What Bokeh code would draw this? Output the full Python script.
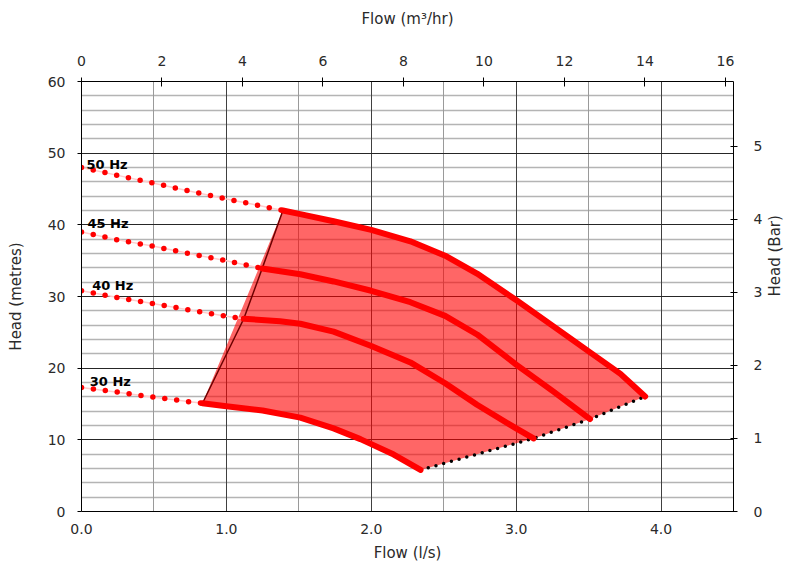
import math
from bokeh.plotting import figure
from bokeh.models import Range1d, LinearAxis, FixedTicker, Grid, PrintfTickFormatter
from bokeh.core.properties import value
from bokeh.embed import file_html
from bokeh.resources import INLINE

# ---------------- data (flow l/s, head m) ----------------
# solid operating curves
q50 = [1.39, 1.51, 1.74, 2.00, 2.27, 2.51, 2.73, 3.00, 3.26, 3.51, 3.72, 3.89]
h50 = [42.0, 41.5, 40.5, 39.3, 37.7, 35.7, 33.2, 29.5, 25.8, 22.2, 19.2, 16.05]
q45 = [1.247, 1.51, 1.74, 2.00, 2.27, 2.51, 2.73, 3.00, 3.26, 3.51]
h45 = [33.9, 33.1, 32.1, 30.8, 29.2, 27.3, 24.7, 20.5, 16.7, 12.9]
q40 = [1.12, 1.37, 1.51, 1.74, 2.00, 2.27, 2.51, 2.73, 3.00, 3.12]
h40 = [26.9, 26.55, 26.2, 25.1, 23.1, 20.8, 17.9, 14.9, 11.6, 10.2]
q30 = [0.835, 1.00, 1.25, 1.51, 1.74, 1.925, 2.00, 2.155, 2.34]
h30 = [15.1, 14.7, 14.1, 13.1, 11.6, 10.1, 9.4, 7.95, 5.8]

# dotted (non-recommended) parts
q50d = [0.0, 0.25, 0.50, 0.75, 1.00, 1.20, 1.39]
h50d = [48.0, 46.9, 45.8, 44.7, 43.6, 42.8, 42.0]
q45d = [0.0, 0.25, 0.50, 0.75, 1.00, 1.247]
h45d = [39.0, 37.9, 37.0, 35.95, 35.0, 33.9]
q40d = [0.0, 0.25, 0.50, 0.75, 1.00, 1.12]
h40d = [30.8, 29.85, 29.0, 28.1, 27.25, 26.9]
q30d = [0.0, 0.25, 0.50, 0.75, 0.835]
h30d = [17.3, 16.65, 15.95, 15.3, 15.1]

speed_labels = ["50 Hz", "45 Hz", "40 Hz", "30 Hz"]
label_q = [0.035, 0.041, 0.074, 0.057]
label_h = [48.4, 40.2, 31.5, 18.1]

left_ticks = [0, 10, 20, 30, 40, 50, 60]
bottom_ticks = [0, 1, 2, 3, 4]
top_ticks = [0, 2, 4, 6, 8, 10, 12, 14, 16]
right_ticks = [0, 1, 2, 3, 4, 5]

M3H_PER_LS = 3.6
M_PER_BAR = 10.2

# ---------------- figure ----------------
p = figure(frame_width=652, frame_height=430,
           x_range=Range1d(0, 4.5), y_range=Range1d(0, 60),
           output_backend="svg", toolbar_location=None,
           min_border_left=81, min_border_right=59,
           min_border_top=81, min_border_bottom=51)
p.outline_line_color = None
p.background_fill_color = "white"
p.border_fill_color = "white"
p.xgrid.visible = False
p.ygrid.visible = False

p.extra_x_ranges = {"m3h": Range1d(0, 4.5 * M3H_PER_LS)}
p.extra_y_ranges = {"bar": Range1d(0, 60 / M_PER_BAR)}

FONT = "DejaVu Sans"
TXT = "#2a2a2a"

def style_axis(ax, tin, tout, standoff, lab_standoff):
    ax.axis_line_color = "black"
    ax.axis_line_width = 1
    ax.major_tick_line_color = "black"
    ax.major_tick_in = tin
    ax.major_tick_out = tout
    ax.minor_tick_line_color = None
    ax.major_label_text_font = FONT
    ax.major_label_text_font_size = "14px"
    ax.major_label_text_color = TXT
    ax.major_label_standoff = standoff
    ax.axis_label_text_font = FONT
    ax.axis_label_text_font_size = "15px"
    ax.axis_label_text_font_style = "normal"
    ax.axis_label_text_color = TXT
    ax.axis_label_standoff = lab_standoff

yl = p.yaxis[0]
yl.ticker = FixedTicker(ticks=left_ticks)
yl.axis_label = "Head (metres)"
style_axis(yl, 0, 4, 12, 20)

xb = p.xaxis[0]
xb.ticker = FixedTicker(ticks=bottom_ticks)
xb.formatter = PrintfTickFormatter(format="%.1f")
xb.axis_label = "Flow (l/s)"
style_axis(xb, 0, 0, 12, 7)

xt = LinearAxis(x_range_name="m3h", ticker=FixedTicker(ticks=top_ticks),
                axis_label="Flow (m³/hr)")
style_axis(xt, 5, 4, 12, 25)
p.add_layout(xt, "above")

yr = LinearAxis(y_range_name="bar", ticker=FixedTicker(ticks=right_ticks),
                axis_label="Head (Bar)")
style_axis(yr, 3, 4, 16, 10)
if "axis_label_orientation" in yr.properties():
    yr.axis_label_orientation = math.pi / 2
p.add_layout(yr, "right")

# ---------------- grids ----------------
minor_h = [h for h in range(2, 60, 2) if h % 10 != 0]
p.add_layout(Grid(dimension=1, ticker=FixedTicker(ticks=minor_h),
                  grid_line_color="#b4b4b4", grid_line_width=1.5))
p.add_layout(Grid(dimension=0, ticker=FixedTicker(ticks=[0.5, 1.5, 2.5, 3.5]),
                  grid_line_color="#9a9a9a", grid_line_width=1))
p.add_layout(Grid(dimension=0, ticker=FixedTicker(ticks=[1, 2, 3, 4]),
                  grid_line_color="#404040", grid_line_width=1))
p.add_layout(Grid(dimension=1, ticker=FixedTicker(ticks=[10, 20, 30, 40, 50]),
                  grid_line_color="#262626", grid_line_width=1))

# ---------------- operating envelope ----------------
ends_q = [q30[-1], q40[-1], q45[-1], q50[-1]]
ends_h = [h30[-1], h40[-1], h45[-1], h50[-1]]
starts_q = [q30[0], q40[0], q45[0], q50[0]]
starts_h = [h30[0], h40[0], h45[0], h50[0]]

poly_q = q50 + ends_q[::-1][1:-1] + q30[::-1]
poly_h = h50 + ends_h[::-1][1:-1] + h30[::-1]
p.patch(poly_q, poly_h, fill_color="#ff0000", fill_alpha=0.6, line_color=None)

p.line(starts_q, starts_h, line_color="#6e0000", line_width=1.5)
p.line(ends_q, ends_h, line_color="black", line_width=3.5,
       line_dash="0 8", line_cap="round")

for qd, hd in [(q50d, h50d), (q45d, h45d), (q40d, h40d), (q30d, h30d)]:
    p.line(qd, hd, line_color="#ffcccc", line_width=1.5)
    p.line(qd, hd, line_color="#ff0000", line_width=5.5,
           line_dash="0 12", line_cap="round")

for qs, hs in [(q50, h50), (q45, h45), (q40, h40), (q30, h30)]:
    p.line(qs, hs, line_color="#ff0000", line_width=6,
           line_cap="round", line_join="round")

p.text(x=label_q, y=label_h, text=speed_labels,
       text_font=value(FONT), text_font_style="bold",
       text_font_size="13px", text_color="black",
       text_baseline="alphabetic", text_align="left")

open("out.html", "w").write(file_html(p, INLINE))
